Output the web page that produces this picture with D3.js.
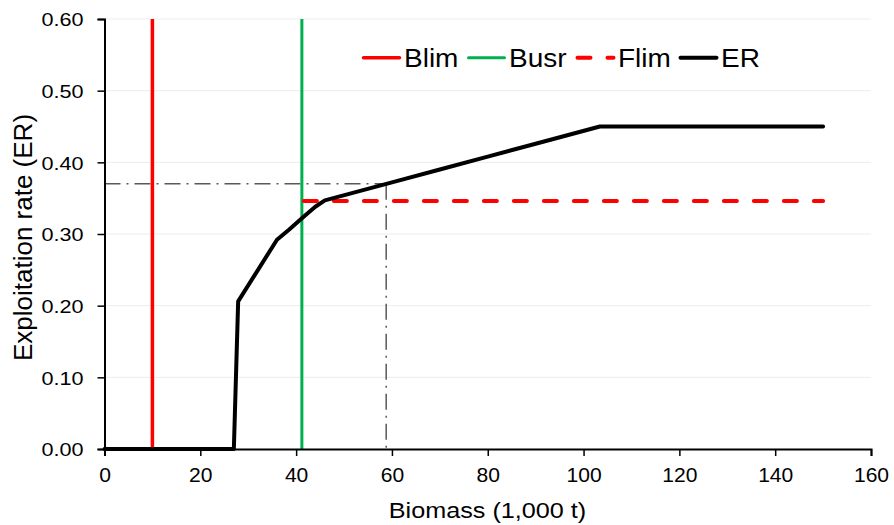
<!DOCTYPE html>
<html>
<head>
<meta charset="utf-8">
<script src="https://cdn.jsdelivr.net/npm/d3@7"></script>
<style>
  body { margin: 0; background: #fff; }
  text { font-family: "Liberation Sans", Arial, sans-serif; fill: #000; }
</style>
</head>
<body>
<div id="chart"></div>
<script>
// values
var erBiomass = [0, 27, 27.9, 36, 38.5, 41.2, 44, 46, 60, 70, 80, 90, 103.4, 150];
var erRate    = [0, 0, 0.206, 0.292, 0.306, 0.322, 0.338, 0.347, 0.372, 0.390, 0.408, 0.426, 0.45, 0.45];
var blim = 10;
var busr = 41.2;
var flim = 0.346;
var flimRange = [41.2, 150];
var refPoint = [58.8, 0.37];
var xTicks = [0, 20, 40, 60, 80, 100, 120, 140, 160];
var yTicks = [0, 0.1, 0.2, 0.3, 0.4, 0.5, 0.6];
var legendNames = ["Blim", "Busr", "Flim", "ER"];

var margin = {top: 19, right: 23, bottom: 76, left: 104.5},
    width = 894 - margin.left - margin.right,
    height = 525 - margin.top - margin.bottom;

// widen text like the original (its glyphs are wider than Arial's)
function stretch(sel, k) {
    sel.each(function () {
        var l = this.getComputedTextLength();
        d3.select(this).attr("textLength", l * k).attr("lengthAdjust", "spacingAndGlyphs");
    });
}

var svg = d3.select("#chart")
    .append("svg")
    .attr("width", 894)
    .attr("height", 525)
    .append("g")
    .attr("transform", "translate(" + margin.left + "," + margin.top + ")");

var x = d3.scaleLinear().domain([0, 160]).range([0, width]);
var y = d3.scaleLinear().domain([0, 0.6]).range([height, 0]);

// gridlines
svg.selectAll("grid")
    .data(yTicks.slice(1))
    .enter()
    .append("line")
    .attr("x1", 0).attr("x2", width)
    .attr("y1", function (d) { return y(d); })
    .attr("y2", function (d) { return y(d); })
    .attr("stroke", "#d9d9d9")
    .attr("stroke-width", 1)
    .attr("stroke-dasharray", "1,1");

// reference dash-dot lines
svg.append("line")
    .attr("x1", 0).attr("x2", x(refPoint[0]))
    .attr("y1", y(refPoint[1])).attr("y2", y(refPoint[1]))
    .attr("stroke", "#595959").attr("stroke-width", 1.5)
    .attr("stroke-dasharray", "16,6,2,6");
svg.append("line")
    .attr("x1", x(refPoint[0])).attr("x2", x(refPoint[0]))
    .attr("y1", y(refPoint[1])).attr("y2", y(0))
    .attr("stroke", "#595959").attr("stroke-width", 1.5)
    .attr("stroke-dasharray", "16,6,2,6");

// Blim / Busr verticals
svg.append("line")
    .attr("x1", x(blim)).attr("x2", x(blim))
    .attr("y1", y(0.6)).attr("y2", y(0))
    .attr("stroke", "#ff0000").attr("stroke-width", 3.5);
svg.append("line")
    .attr("x1", x(busr)).attr("x2", x(busr))
    .attr("y1", y(0.6)).attr("y2", y(0))
    .attr("stroke", "#00b050").attr("stroke-width", 3);

// Flim
svg.append("line")
    .attr("x1", x(flimRange[0]) + 2).attr("x2", x(flimRange[1]))
    .attr("y1", y(flim)).attr("y2", y(flim))
    .attr("stroke", "#ff0000").attr("stroke-width", 4)
    .attr("stroke-dasharray", "13,17")
    .attr("stroke-linecap", "round");

// axes
var xAxis = svg.append("g")
    .attr("transform", "translate(0," + height + ")")
    .call(d3.axisBottom(x).tickValues(xTicks).tickSize(7).tickPadding(12));
xAxis.selectAll("text").style("font-size", "19.5px");
xAxis.selectAll("line").attr("stroke-width", 1.5);
xAxis.select(".domain").attr("stroke-width", 2);
stretch(xAxis.selectAll("text"), 1.08);

var yAxis = svg.append("g")
    .call(d3.axisLeft(y).tickValues(yTicks).tickFormat(d3.format(".2f")).tickSize(7).tickPadding(14));
yAxis.selectAll("text").style("font-size", "18.8px").attr("dy", "0.36em");
yAxis.selectAll("line").attr("stroke-width", 1.5);
yAxis.select(".domain").attr("stroke-width", 2);
stretch(yAxis.selectAll("text"), 1.15);

// ER line
var erData = erBiomass.map(function (b, i) { return [b, erRate[i]]; });
svg.append("path")
    .datum(erData)
    .attr("fill", "none")
    .attr("stroke", "#000")
    .attr("stroke-width", 4)
    .attr("stroke-linejoin", "round")
    .attr("stroke-linecap", "round")
    .attr("d", d3.line()
        .x(function (d) { return x(d[0]); })
        .y(function (d) { return y(d[1]); }));

// axis titles
var xt = svg.append("text")
    .attr("x", 487.5 - margin.left)
    .attr("y", 517.7 - margin.top)
    .attr("text-anchor", "middle")
    .style("font-size", "22.3px")
    .text("Biomass (1,000 t)");
stretch(xt, 1.13);

svg.append("text")
    .attr("transform", "translate(" + (32 - margin.left) + "," + (237.5 - margin.top) + ") rotate(-90)")
    .attr("text-anchor", "middle")
    .style("font-size", "26px")
    .text("Exploitation rate (ER)");

// legend
var legendX = [362 - margin.left, 467 - margin.left, 576 - margin.left, 679 - margin.left];
var legendStyle = [
    {stroke: "#ff0000", dash: null, w: 3.5},
    {stroke: "#00b050", dash: null, w: 3},
    {stroke: "#ff0000", dash: "13,17", w: 4},
    {stroke: "#000", dash: null, w: 4}
];
var lg = svg.append("g").attr("transform", "translate(0," + (57.7 - margin.top) + ")");
legendNames.forEach(function (name, i) {
    lg.append("line")
        .attr("x1", legendX[i] + 1.5).attr("x2", legendX[i] + 37.5)
        .attr("y1", 0).attr("y2", 0)
        .attr("stroke", legendStyle[i].stroke)
        .attr("stroke-width", legendStyle[i].w)
        .attr("stroke-dasharray", legendStyle[i].dash)
        .attr("stroke-linecap", "round");
    var t = lg.append("text")
        .attr("x", legendX[i] + 42)
        .attr("y", 9)
        .style("font-size", "25px")
        .text(name);
    stretch(t, 1.12);
});
</script>
</body>
</html>
